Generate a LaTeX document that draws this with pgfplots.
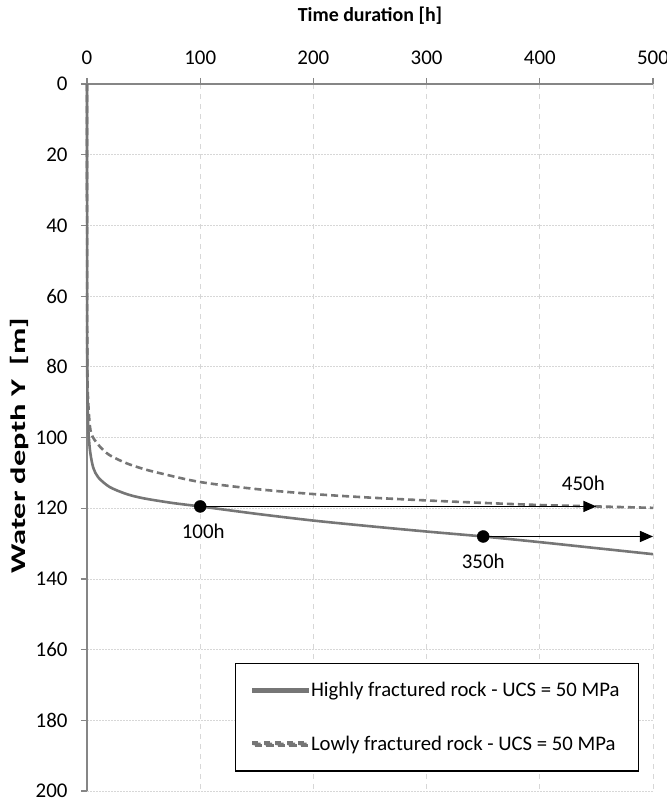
\documentclass[border=0pt]{standalone}
\usepackage{fontspec}
\setmainfont{Carlito}
\newfontfamily\ylabfont[FakeStretch=1.55]{Carlito}
\usepackage{pgfplots}
\pgfplotsset{compat=1.18}
\usetikzlibrary{arrows.meta}
\definecolor{curvegray}{RGB}{118,118,118}
\definecolor{axgray}{RGB}{134,134,134}
\definecolor{gridgray}{RGB}{215,215,215}

\begin{document}
\begin{tikzpicture}
\begin{axis}[
    at={(87bp,717bp)}, anchor=north west,
    scale only axis,
    width=566bp, height=707bp,
    xmin=0, xmax=500, ymin=0, ymax=200,
    y dir=reverse,
    xtick={0,100,...,500},
    ytick={0,20,...,200},
    axis line style={draw=none},
    xtick pos=top, xticklabel pos=top,
    ytick pos=left,
    tick align=outside,
    major tick length=6bp,
    tick style={axgray, line width=1.2bp},
    /pgf/number format/assume math mode=true,
    tick label style={font=\fontsize{21}{24}\selectfont},
    xticklabel style={yshift=10bp},
    yticklabel style={xshift=-10bp},
    xlabel={Time duration [h]},
    ylabel={Water depth Y\ \ [m]},
    xlabel style={font=\fontsize{20}{23}\selectfont\bfseries, yshift=19bp},
    ylabel style={font=\fontsize{21}{24}\ylabfont\bfseries,
        at={(axis description cs:-0.1185,0.488)}, anchor=center},
    grid=major,
    x grid style={gridgray, line width=1bp, dash pattern=on 5bp off 5bp},
    y grid style={gridgray, line width=0.8bp, dash pattern=on 1.5bp off 1.5bp},
    legend style={
        at={(0.9753,0.1815)}, anchor=north east,
        draw=black, line width=1.1bp,
        font=\fontsize{20.8}{24}\selectfont,
        inner xsep=17bp, inner ysep=17bp,
        row sep=34bp,
    },
    legend cell align=left,
    clip=false,
]
\draw[axgray, line width=1.8bp] (axis cs:0,0) -- (axis cs:500,0);
\draw[axgray, line width=1.8bp] (axis cs:0,0) -- (axis cs:0,200);

\addplot[curvegray, line width=2.6bp, smooth,
    legend image code/.code={\fill[curvegray] (0bp,-1.3bp) rectangle (54bp,1.3bp);}]
    coordinates {
    (0,0) (0.1,60) (0.3,85) (0.8,95) (1.6,100) (3,104.5) (5.6,108.6) (10,111.3)
    (20,114) (35,116) (50,117.2) (75,118.5) (100,119.5) (150,121.6)
    (200,123.5) (250,125.1) (300,126.6) (350,128) (400,129.6) (450,131.3) (500,133)
};
\addlegendentry{Highly fractured rock - UCS = 50 MPa}

\addplot[curvegray, line width=2.6bp, dash pattern=on 7bp off 4bp, smooth,
    legend image code/.code={\fill[curvegray]
        (0bp,-1.3bp) rectangle (7bp,1.3bp)
        (11.5bp,-1.3bp) rectangle (18.5bp,1.3bp)
        (23bp,-1.3bp) rectangle (30bp,1.3bp)
        (34.5bp,-1.3bp) rectangle (41.5bp,1.3bp)
        (46bp,-1.3bp) rectangle (53bp,1.3bp);}]
    coordinates {
    (0,0) (0.1,60) (0.4,82) (1,89.5) (2.6,96.9) (5,99.8) (11.5,102.6) (20,105)
    (35,107.3) (50,108.9) (64.5,110.1) (100,112.6) (150,114.6) (200,116)
    (250,117) (300,117.8) (350,118.5) (400,119.1) (450,119.5) (500,119.9)
};
\addlegendentry{Lowly fractured rock - UCS = 50 MPa}

\addplot[forget plot, black, line width=1.4bp, -{Triangle[length=13bp, width=11bp]}]
    coordinates {(100,119.5) (450,119.5)};
\addplot[forget plot, black, line width=1.4bp, -{Triangle[length=13bp, width=11bp]}]
    coordinates {(350,128) (500,128)};
\addplot[forget plot, only marks, mark=*, mark size=6bp, black]
    coordinates {(100,119.5) (350,128)};

\node[font=\fontsize{21}{24}\selectfont] at (axis cs:102.7,126.6) {100h};
\node[font=\fontsize{21}{24}\selectfont] at (axis cs:350,135.1) {350h};
\node[font=\fontsize{21}{24}\selectfont] at (axis cs:438.5,113) {450h};
\end{axis}
\pgfresetboundingbox
\useasboundingbox (0,0) rectangle (667bp,801bp);
\end{tikzpicture}
\end{document}
